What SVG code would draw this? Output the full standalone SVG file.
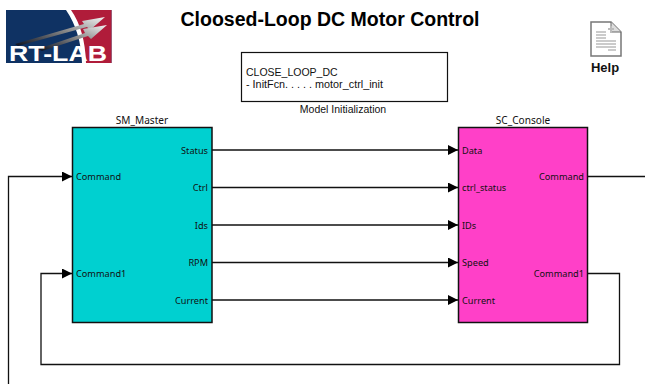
<svg xmlns="http://www.w3.org/2000/svg" width="645" height="384" viewBox="0 0 645 384">
<defs>
<marker id="arr" markerUnits="userSpaceOnUse" markerWidth="11" markerHeight="10" refX="10" refY="5" orient="auto"><path d="M0 0L10 5L0 10Z" fill="#000"/></marker>
<linearGradient id="streak" x1="0" y1="1" x2="1" y2="0"><stop offset="0" stop-color="#0a1020"/><stop offset=".55" stop-color="#8a8a8a"/><stop offset="1" stop-color="#f4f4f4"/></linearGradient>
</defs>
<style>
text{font-family:"Noto Sans","DejaVu Sans",sans-serif;font-size:9.200px;fill:#111}
.r{text-anchor:end}
.m{text-anchor:middle}
.n{font-size:10.100px}
.w{font-family:"Liberation Sans",Arial,sans-serif}
.block{stroke:#111;stroke-width:1.5}
.wire{fill:none;stroke:#111;stroke-width:1.3}
.end{marker-end:url(#arr)}
</style>
<rect width="645" height="384" fill="#fff"/>
<g id="logo">
<rect x="6" y="10" width="105.500" height="53" fill="#0f3263"/>
<path d="M67 10H111.500V63H84Q82 32 67 10Z" fill="#b01c3a"/>
<path d="M66 10H71Q85 30 86 63H82Q81 32 66 10Z" fill="#fff"/>
<path d="M15 44L84 24L82 21L105 17L90 30L87 27L18 46Z" fill="url(#streak)"/>
<path d="M38 49L85 33L83 29L107 25L91 39L88 36L42 51Z" fill="url(#streak)"/>
<text x="58" y="61" class="m w" style="font-size:22px;font-weight:700;fill:#fff" textLength="98" lengthAdjust="spacingAndGlyphs">RT-LAB</text>
</g>
<text id="title" x="330" y="26" class="m w" style="font-size:19.500px;font-weight:700;fill:#000">Cloosed-Loop DC Motor Control</text>
<g id="help">
<path d="M591 22H611L621 32V56H591Z" fill="#fff" stroke="#777" stroke-width="1.5"/>
<path d="M611 22V32H621" fill="#ddd" stroke="#666"/>
<path d="M596 32H606M596 35H606M596 38H606M596 41H616M596 44H616M596 47H616M608 50H616" stroke="#bbb" stroke-width="1.5" fill="none"/>
<path d="M608 29H614M611 26V33" stroke="#bbb" stroke-width="2" fill="none"/>
<text x="605" y="72" class="m w" style="font-size:13px;font-weight:700">Help</text>
</g>
<g id="model-init">
<rect x="241.500" y="52.500" width="206" height="49" fill="#fff" stroke="#111" stroke-width="1.200"/>
<text x="246" y="76" class="w" style="font-size:10.500px">CLOSE_LOOP_DC</text>
<text x="246" y="88" class="w" style="font-size:10.800px" textLength="137">- InitFcn. . . . . motor_ctrl_init</text>
<text x="343" y="113" class="m w" style="font-size:10.500px">Model Initialization</text>
</g>
<g id="connectors">
<path class="wire end" d="M212 150H458"/>
<path class="wire end" d="M212 187.500H458"/>
<path class="wire end" d="M212 225H458"/>
<path class="wire end" d="M212 262.500H458"/>
<path class="wire end" d="M212 300H458"/>
<path class="wire" d="M588 176.500H645"/>
<path class="wire end" d="M8.500 384V176.500H72"/>
<path class="wire end" d="M588 273.500H619.500V364.500H41V273.500H72"/>
</g>
<g id="sm-master">
<rect class="block" x="72.500" y="127.500" width="139.500" height="195" fill="#00d0d0"/>
<text x="142" y="124" class="m n">SM_Master</text>
<text x="76" y="180">Command</text>
<text x="76" y="277">Command1</text>
<text x="208" y="153.500" class="r">Status</text>
<text x="208" y="191" class="r">Ctrl</text>
<text x="208" y="228.500" class="r">Ids</text>
<text x="208" y="266" class="r">RPM</text>
<text x="208" y="303.500" class="r">Current</text>
</g>
<g id="sc-console">
<rect class="block" x="458.500" y="127.500" width="129" height="195" fill="#ff40c8"/>
<text x="523" y="124" class="m n">SC_Console</text>
<text x="462" y="153.500">Data</text>
<text x="462" y="191">ctrl_status</text>
<text x="462" y="228.500">IDs</text>
<text x="462" y="266">Speed</text>
<text x="462" y="303.500">Current</text>
<text x="584" y="180" class="r">Command</text>
<text x="584" y="277" class="r">Command1</text>
</g>
</svg>
